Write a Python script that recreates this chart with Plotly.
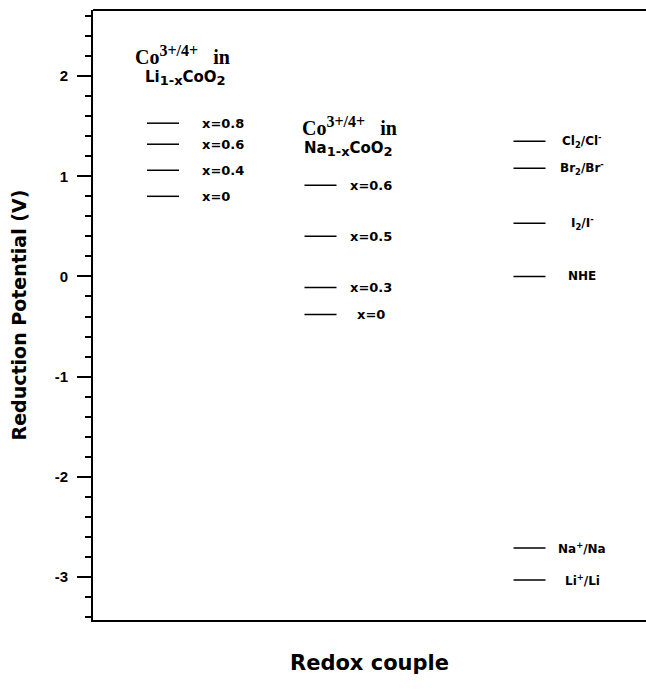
import plotly.graph_objects as go

# ---- data ----
li_labels = ["x=0.8", "x=0.6", "x=0.4", "x=0"]
li_values = [1.53, 1.32, 1.06, 0.80]

na_labels = ["x=0.6", "x=0.5", "x=0.3", "x=0"]
na_values = [0.91, 0.40, -0.11, -0.38]

ref_labels = ["Cl<sub>2</sub>/Cl<sup>-</sup>", "Br<sub>2</sub>/Br<sup>-</sup>",
              "I<sub>2</sub>/I<sup>-</sup>", "NHE", "Na<sup>+</sup>/Na", "Li<sup>+</sup>/Li"]
ref_values = [1.35, 1.08, 0.53, 0.0, -2.71, -3.03]

y_tickvals = [-3, -2, -1, 0, 1, 2]
y_ticktext = ["-3", "-2", "-1", "0", "1", "2"]

# ---- style / layout constants ----
SANS = "Liberation Sans, Arial, sans-serif"
LAB = "DejaVu Sans, sans-serif"
SERIF = "Liberation Serif, Times New Roman, serif"
HALF = 0.16
groups = [(0.70, li_values), (2.275, na_values), (4.365, ref_values)]

fig = go.Figure()
for cx, vals in groups:
    xs, ys = [], []
    for v in vals:
        xs += [cx - HALF, cx + HALF, None]
        ys += [v, v, None]
    fig.add_trace(go.Scatter(x=xs, y=ys, mode="lines",
                             line=dict(color="black", width=1.5),
                             showlegend=False, hoverinfo="skip"))

ann = []
for lab, v in zip(li_labels, li_values):
    ann.append(dict(x=1.07, y=v, text=f"<b>{lab}</b>", xanchor="left",
                    font=dict(family=LAB, size=13, color="black")))
for lab, v in zip(na_labels, na_values):
    ann.append(dict(x=2.78, y=v, text=f"<b>{lab}</b>", xanchor="center",
                    font=dict(family=LAB, size=13, color="black")))
for lab, v in zip(ref_labels, ref_values):
    ann.append(dict(x=4.89, y=v, text=f"<b>{lab}</b>", xanchor="center",
                    font=dict(family=LAB, size=12, color="black")))

co_text = ("<b>Co<sup><span style=\"font-size:16px\">3+/4+</span></sup>"
           "\u00a0\u00a0\u00a0in</b>")
sub_li = ("<b>Li<sub><span style=\"font-size:13px\">1-x</span></sub>"
          "CoO<sub><span style=\"font-size:13px\">2</span></sub></b>")
sub_na = ("<b>Na<sub><span style=\"font-size:13px\">1-x</span></sub>"
          "CoO<sub><span style=\"font-size:13px\">2</span></sub></b>")
ann.append(dict(x=0.40, y=2.21, xanchor="left", text=co_text,
                font=dict(family=SERIF, size=20, color="black")))
ann.append(dict(x=0.50, y=1.98, xanchor="left", text=sub_li,
                font=dict(family=LAB, size=15, color="black")))
ann.append(dict(x=2.07, y=1.50, xanchor="left", text=co_text,
                font=dict(family=SERIF, size=20, color="black")))
ann.append(dict(x=2.09, y=1.27, xanchor="left", text=sub_na,
                font=dict(family=LAB, size=15, color="black")))
for a in ann:
    a.update(showarrow=False, xref="x", yref="y")

fig.update_layout(
    width=646, height=689,
    margin=dict(l=93, r=0, t=10, b=69),
    plot_bgcolor="white", paper_bgcolor="white",
    annotations=ann,
    shapes=[dict(type="line", xref="paper", yref="paper", x0=0, x1=1, y0=1, y1=1,
                 line=dict(color="black", width=2))],
    xaxis=dict(range=[0, 5.53], showline=True, linecolor="black", linewidth=2,
               mirror=False, showticklabels=False, ticks="", showgrid=False,
               zeroline=False,
               title=dict(text="Redox couple", standoff=34,
                          font=dict(family=LAB, size=21, color="black", weight="bold"))),
    yaxis=dict(range=[-3.43, 2.66], showline=True, linecolor="black", linewidth=2,
               mirror=False, showgrid=False, zeroline=False,
               tickvals=y_tickvals, ticktext=y_ticktext,
               ticks="outside", ticklen=14, tickwidth=2, tickcolor="black",
               ticklabelstandoff=6,
               tickfont=dict(family=SANS, size=15, color="black", weight="bold"),
               minor=dict(dtick=0.2, tick0=0, ticks="outside", ticklen=6,
                          tickwidth=1.5, tickcolor="black", showgrid=False),
               title=dict(text="Reduction Potential (V)", standoff=23,
                          font=dict(family=LAB, size=19, color="black", weight="bold"))),
)

# remove the default page margin so the 646x689 figure fills the window exactly
fig.write_html(
    "out.html",
    config={"displayModeBar": False},
    post_script="document.body.style.margin='0';document.body.style.overflow='hidden';",
)
